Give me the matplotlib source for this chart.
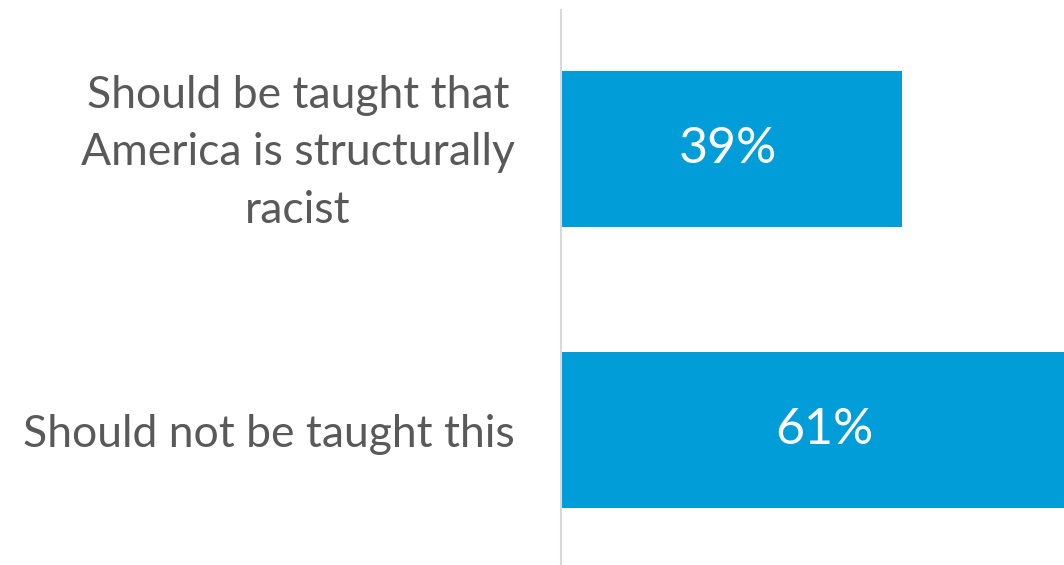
import matplotlib
matplotlib.use('Agg')
import matplotlib.pyplot as plt
import matplotlib.transforms as mtransforms

# Chart data
categories = ['Should be taught that\nAmerica is structurally\nracist', 'Should not be taught this']
values = [39, 61]
value_labels = ['39%', '61%']

bar_color = '#009DD9'
text_gray = '#595959'

plt.rcParams['font.family'] = ['Lato', 'DejaVu Sans']

fig = plt.figure(figsize=(10.64, 5.65), dpi=100)
ax = fig.add_axes([561 / 1064, 0, 1 - 561 / 1064, 1 - 10 / 565])

y = list(range(len(categories)))
ax.barh(y, values, height=0.556, color=bar_color)

# right side of the picture cuts the longer bar
ax.set_xlim(0, 57.5)
ax.set_ylim(1.481, -0.497)

for yi, v, lab in zip(y, values, value_labels):
    ax.text(v / 2 - 0.4, yi, lab, color='white', fontsize=36, ha='center', va='center')

ax.set_yticks(y)
ax.set_yticklabels(categories, fontsize=32, color=text_gray,
                   multialignment='center', linespacing=1.5)
ax.tick_params(axis='y', length=0, pad=33)
ax.set_xticks([])

# nudge the three-line label up a little
first = ax.get_yticklabels()[0]
first.set_transform(first.get_transform() +
                    mtransforms.ScaledTranslation(0, 0.09, fig.dpi_scale_trans))

for side in ['top', 'right', 'bottom']:
    ax.spines[side].set_visible(False)
ax.spines['left'].set_color('#D9D9D9')
ax.spines['left'].set_linewidth(1.5)

fig.savefig('out.png', dpi=100)
